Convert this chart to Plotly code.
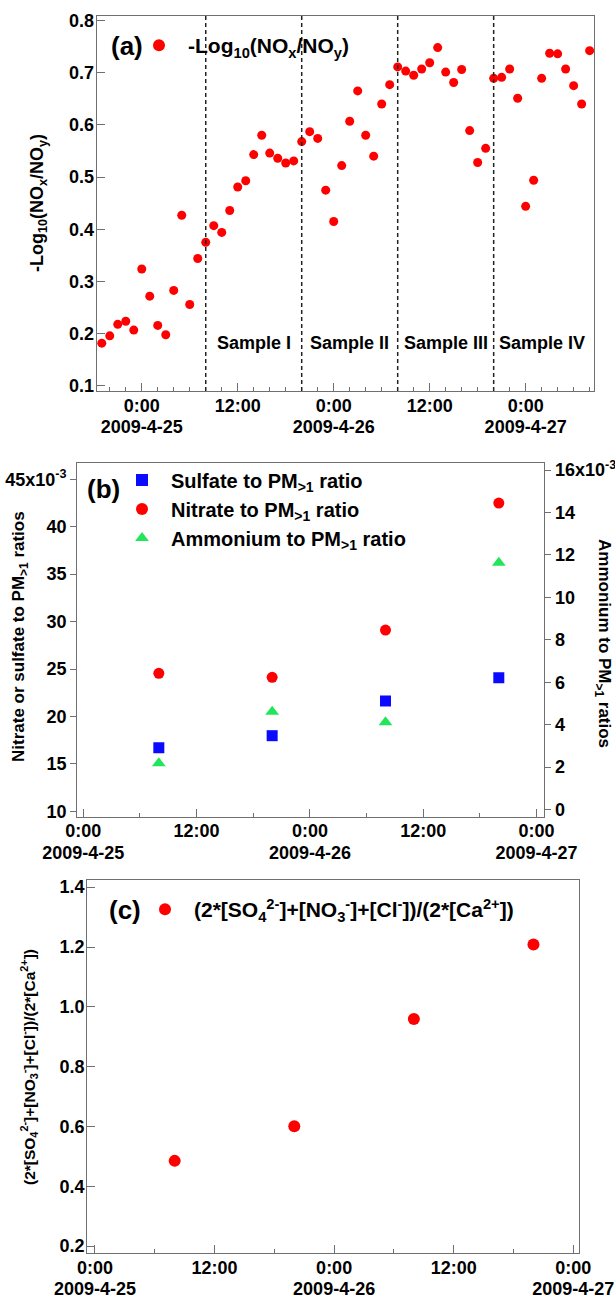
import pandas as pd
import plotly.graph_objects as go

# ---------------- data ----------------
# panel (a): hourly -Log10(NOx/NOy), starting 2009-04-24 19:00
times_a = pd.date_range("2009-04-24 19:00", periods=62, freq="h")
nox_ratio = [0.182, 0.196, 0.218, 0.224, 0.207, 0.324, 0.272, 0.216, 0.198, 0.283,
             0.427, 0.256, 0.344, 0.375, 0.407, 0.394, 0.436, 0.481, 0.493, 0.543,
             0.580, 0.546, 0.536, 0.527, 0.531, 0.568, 0.587, 0.574, 0.475, 0.415,
             0.522, 0.607, 0.665, 0.580, 0.540, 0.640, 0.677, 0.711, 0.703, 0.695,
             0.707, 0.719, 0.748, 0.701, 0.681, 0.706, 0.589, 0.528, 0.555, 0.689,
             0.691, 0.707, 0.651, 0.444, 0.494, 0.689, 0.737, 0.736, 0.707, 0.675,
             0.640, 0.742]

sample_bounds = ["2009-04-25 08:00", "2009-04-25 20:00", "2009-04-26 08:00",
                 "2009-04-26 20:00", "2009-04-27 08:00"]
sample_names = ["Sample I", "Sample II", "Sample III", "Sample IV"]

# panels (b) and (c): one value per sample (plotted at sample start)
sample_times = ["2009-04-25 08:00", "2009-04-25 20:00", "2009-04-26 08:00", "2009-04-26 20:00"]
sulfate_pm = [0.01670, 0.01797, 0.02163, 0.02408]
nitrate_pm = [0.02455, 0.02413, 0.02911, 0.04250]
ammonium_pm = [0.00218, 0.00461, 0.00411, 0.01163]
ion_balance = [0.485, 0.601, 0.959, 1.208]

# tick labels
time_tickvals = ["2009-04-25 00:00", "2009-04-25 12:00", "2009-04-26 00:00",
                 "2009-04-26 12:00", "2009-04-27 00:00"]
time_ticktext = ["0:00", "12:00", "0:00", "12:00", "0:00"]
date_tickvals = ["2009-04-25 00:00", "2009-04-26 00:00", "2009-04-27 00:00"]
date_ticktext = ["2009-4-25", "2009-4-26", "2009-4-27"]
left_b_vals = [0.010, 0.015, 0.020, 0.025, 0.030, 0.035, 0.040, 0.045]
left_b_text = ["10", "15", "20", "25", "30", "35", "40", "45x10<sup>-3</sup>"]
right_b_vals = [0.0, 0.002, 0.004, 0.006, 0.008, 0.010, 0.012, 0.014, 0.016]
right_b_text = ["0", "2", "4", "6", "8", "10", "12", "14", "16x10<sup>-3</sup>"]

# ---------------- styling helpers ----------------
W, H = 615, 1297
FONT = "Liberation Sans"
AX = "#707070"
RED, BLUE, GREEN = "#ff0000", "#0a0aff", "#22e65a"


def fx(p):
    return p / W


def fy(p):
    return 1 - p / H


def tf(size=18):
    return dict(family=FONT, size=size, color="black", weight="bold")


fig = go.Figure()

fig.add_trace(go.Scatter(x=times_a, y=nox_ratio, mode="markers", xaxis="x", yaxis="y",
                         marker=dict(color=RED, size=9),
                         name="-Log<sub>10</sub>(NO<sub>x</sub>/NO<sub>y</sub>)", legend="legend"))

fig.add_trace(go.Scatter(x=sample_times, y=sulfate_pm, mode="markers", xaxis="x2", yaxis="y2",
                         marker=dict(color=BLUE, size=11, symbol="square"),
                         name="Sulfate to PM<sub>&gt;1</sub> ratio", legend="legend2"))
fig.add_trace(go.Scatter(x=sample_times, y=nitrate_pm, mode="markers", xaxis="x2", yaxis="y2",
                         marker=dict(color=RED, size=11, symbol="circle"),
                         name="Nitrate to PM<sub>&gt;1</sub> ratio", legend="legend2"))
fig.add_trace(go.Scatter(x=sample_times, y=ammonium_pm, mode="markers", xaxis="x2", yaxis="y3",
                         marker=dict(color=GREEN, size=12, symbol="triangle-up"),
                         name="Ammonium to PM<sub>&gt;1</sub> ratio", legend="legend2"))

ion_name = "(2*[SO<sub>4</sub><sup>2-</sup>]+[NO<sub>3</sub><sup>-</sup>]+[Cl<sup>-</sup>])/(2*[Ca<sup>2+</sup>])"
fig.add_trace(go.Scatter(x=sample_times, y=ion_balance, mode="markers", xaxis="x3", yaxis="y4",
                         marker=dict(color=RED, size=12), name=ion_name, legend="legend3"))

# empty helper traces so the date-label axes get drawn
for xa, ya in [("x4", "y"), ("x5", "y2"), ("x6", "y4")]:
    fig.add_trace(go.Scatter(x=[], y=[], xaxis=xa, yaxis=ya, showlegend=False,
                             hoverinfo="skip"))

common_axis = dict(showline=True, linecolor=AX, linewidth=1.3, mirror=True, showgrid=False,
                   zeroline=False, tickcolor=AX, tickwidth=1.2, tickfont=tf(18),
                   automargin=False)


def xaxis(domain, rng, anchor, minor_dtick):
    return dict(common_axis, domain=domain, range=rng, type="date", anchor=anchor,
                tickmode="array", tickvals=time_tickvals, ticktext=time_ticktext,
                ticks="inside", ticklen=8, ticklabelstandoff=-2,
                minor=dict(tickmode="linear", tick0="2009-04-25 00:00", dtick=minor_dtick,
                           ticks="inside", ticklen=4, tickcolor=AX, tickwidth=1.2))


def date_axis(over, rng, anchor):
    return dict(overlaying=over, range=rng, type="date", anchor=anchor, side="bottom",
                tickmode="array", tickvals=date_tickvals, ticktext=date_ticktext,
                ticks="", showline=False, showgrid=False, zeroline=False,
                ticklabelstandoff=23, tickfont=tf(18), automargin=False)


legend_common = dict(xanchor="left", yanchor="middle", itemwidth=48, itemsizing="constant",
                     bgcolor="rgba(0,0,0,0)", borderwidth=0)

rng_a = ["2009-04-24 18:22", "2009-04-27 08:35"]
rng_b = ["2009-04-24 23:22", "2009-04-27 00:49"]
rng_c = ["2009-04-24 23:14", "2009-04-27 00:36"]

fig.update_layout(
    width=W, height=H, margin=dict(l=0, r=0, t=0, b=0, pad=0), autosize=False,
    paper_bgcolor="white", plot_bgcolor="white", showlegend=True,
    xaxis=xaxis([fx(96.7), fx(594.3)], rng_a, "y", 7200000),
    yaxis=dict(common_axis, domain=[fy(391), fy(15.7)], range=[0.0904, 0.809], anchor="x",
               tick0=0.1, dtick=0.1, tickformat=".1f", ticks="inside", ticklen=8,
               ticklabelstandoff=-2),
    xaxis2=xaxis([fx(77.3), fx(544.3)], rng_b, "y2", 21600000),
    yaxis2=dict(common_axis, domain=[fy(816.7), fy(463.3)], range=[0.00943, 0.04669], anchor="x2",
                tickmode="array", tickvals=left_b_vals, ticktext=left_b_text,
                ticks="outside", ticklen=6),
    yaxis3=dict(common_axis, overlaying="y2", side="right", anchor="x2",
                range=[-0.00034, 0.01632], tickmode="array", tickvals=right_b_vals,
                ticktext=right_b_text, ticks="outside", ticklen=6, mirror=False),
    xaxis3=xaxis([fx(87.3), fx(579.3)], rng_c, "y4", 21600000),
    yaxis4=dict(common_axis, domain=[fy(1253), fy(880)], range=[0.177, 1.424], anchor="x3",
                tick0=0.2, dtick=0.2, tickformat=".1f", ticks="inside", ticklen=8,
                ticklabelstandoff=-2),
    xaxis4=date_axis("x", rng_a, "y"),
    xaxis5=date_axis("x2", rng_b, "y2"),
    xaxis6=date_axis("x3", rng_c, "y4"),
    legend=dict(legend_common, x=fx(130), y=fy(45.5), font=tf(21)),
    legend2=dict(legend_common, x=fx(113), y=fy(509), font=tf(20), tracegroupgap=0),
    legend3=dict(legend_common, x=fx(136), y=fy(909.5), font=tf(21)),
)

# sample boundaries (dashed)
for b in sample_bounds[:-1]:
    fig.add_shape(type="line", xref="x", yref="y domain", x0=b, x1=b, y0=0, y1=1,
                  line=dict(color="#222", width=1.5, dash="4px,3px"))

# sample labels
for i, name in enumerate(sample_names):
    t0 = pd.Timestamp(sample_bounds[i])
    t1 = pd.Timestamp(sample_bounds[i + 1])
    mid = t0 + (t1 - t0) / 2
    fig.add_annotation(x=mid, y=0.182, xref="x", yref="y", text=name, showarrow=False,
                       xanchor="center", yanchor="middle", font=tf(18))

# panel letters
for txt, px, py in [("(a)", 127, 46), ("(b)", 103.7, 489), ("(c)", 124.5, 910)]:
    fig.add_annotation(x=fx(px), y=fy(py), xref="paper", yref="paper", text=txt,
                       showarrow=False, xanchor="center", yanchor="middle", font=tf(26))

# axis titles
titles = [
    ("-Log<sub>10</sub>(NO<sub>x</sub>/NO<sub>y</sub>)", 39, 203, -90, 18),
    ("Nitrate or sulfate to PM<sub>&gt;1</sub> ratios", 20, 637, -90, 17),
    ("Ammonium to PM<sub>&gt;1</sub> ratios", 603, 643, 90, 17),
    (ion_name, 29, 1067, -90, 15.5),
]
for txt, px, py, ang, sz in titles:
    fig.add_annotation(x=fx(px), y=fy(py), xref="paper", yref="paper", text=txt,
                       showarrow=False, textangle=ang, xanchor="center", yanchor="middle",
                       font=tf(sz))

fig.write_html("out.html", config={"displayModeBar": False},
               post_script="document.body.style.margin='0';document.body.style.overflow='hidden';")
